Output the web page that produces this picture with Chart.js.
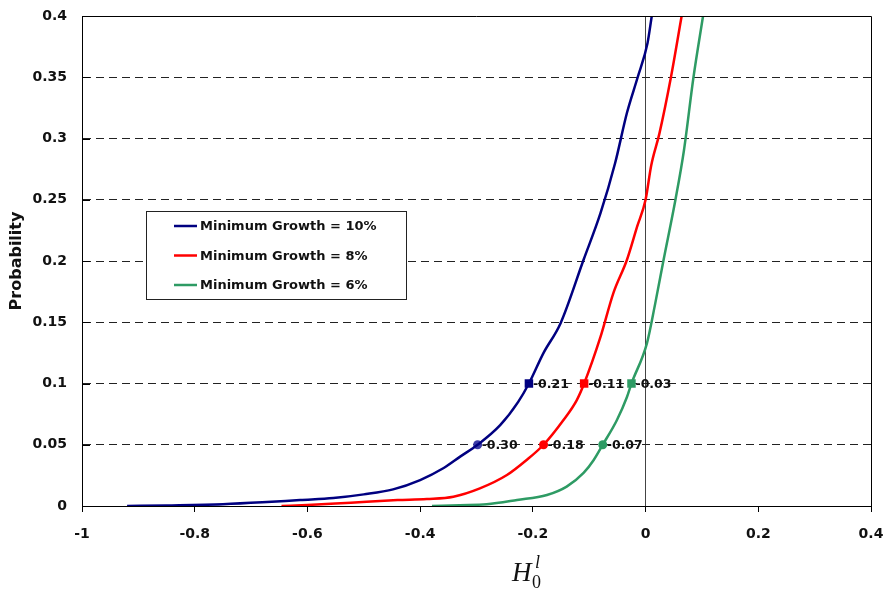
<!DOCTYPE html>
<html>
<head>
<title>Probability vs H0</title>
<script src="https://cdn.jsdelivr.net/npm/chart.js"></script>
<style>
  body { margin: 0; background: #fff; }
</style>
</head>
<body>
<canvas id="probChart" width="889" height="589"></canvas>
<script>
// series names / colours
const seriesNames = ['Minimum Growth = 10%', 'Minimum Growth = 8%', 'Minimum Growth = 6%'];
const seriesColors = ['#000080', '#ff0000', '#2e9b64'];
const dotColors = ['#3a3aa6', '#ff0000', '#2e9b64'];

// curves (H0 value, probability)
const h10 = [-0.92, -0.85, -0.75, -0.68, -0.613, -0.554, -0.50, -0.448, -0.40, -0.359, -0.329, -0.298, -0.258, -0.226, -0.207, -0.181, -0.151, -0.110, -0.080, -0.054, -0.033, -0.014, 0.0035, 0.011];
const p10 = [0, 0.0005, 0.0015, 0.003, 0.0049, 0.0065, 0.0095, 0.0136, 0.0212, 0.0308, 0.0403, 0.05, 0.066, 0.085, 0.1, 0.125, 0.149, 0.201, 0.239, 0.280, 0.321, 0.350, 0.378, 0.400];

const h8 = [-0.646, -0.60, -0.55, -0.495, -0.44, -0.388, -0.341, -0.294, -0.246, -0.211, -0.181, -0.146, -0.122, -0.109, -0.080, -0.057, -0.033, -0.015, 0, 0.01, 0.0245, 0.045, 0.064];
const p8 = [0, 0.0008, 0.002, 0.0035, 0.0048, 0.0057, 0.0076, 0.0144, 0.0253, 0.0376, 0.05, 0.070, 0.0865, 0.1, 0.138, 0.174, 0.201, 0.228, 0.25, 0.278, 0.304, 0.350, 0.400];

const h6 = [-0.379, -0.33, -0.282, -0.228, -0.175, -0.140, -0.110, -0.092, -0.076, -0.051, -0.033, -0.025, 0.0025, 0.017, 0.032, 0.053, 0.068, 0.085, 0.102];
const p6 = [0, 0.0007, 0.0014, 0.0049, 0.009, 0.0158, 0.027, 0.0376, 0.05, 0.070, 0.089, 0.1, 0.133, 0.165, 0.201, 0.25, 0.290, 0.35, 0.40];

// marked points at P = 0.1 (squares) and P = 0.05 (dots)
const sqH = [-0.207, -0.109, -0.025];
const sqP = [0.1, 0.1, 0.1];
const sqText = ['-0.21', '-0.11', '-0.03'];
const dotH = [-0.298, -0.181, -0.076];
const dotP = [0.05, 0.05, 0.05];
const dotText = ['-0.30', '-0.18', '-0.07'];

const yTickVals = [0, 0.05, 0.1, 0.15, 0.2, 0.25, 0.3, 0.35, 0.4];

function pts(xs, ys) { return xs.map((v, i) => ({ x: v, y: ys[i] })); }
function fmt(v) { return String(Number(v.toFixed(2))); }

const curves = [[h10, p10], [h8, p8], [h6, p6]];
const datasets = curves.map((c, i) => ({
  label: seriesNames[i],
  data: pts(c[0], c[1]),
  showLine: true,
  borderColor: seriesColors[i],
  borderWidth: 2.5,
  pointRadius: 0,
  cubicInterpolationMode: 'monotone'
}));
for (let i = 0; i < 3; i++) {
  datasets.push({
    label: 'sq' + i,
    data: [{ x: sqH[i], y: sqP[i] }],
    pointStyle: 'rect',
    pointRadius: 6,
    backgroundColor: seriesColors[i],
    borderColor: seriesColors[i],
    borderWidth: 0
  });
  datasets.push({
    label: 'dot' + i,
    data: [{ x: dotH[i], y: dotP[i] }],
    pointStyle: 'circle',
    pointRadius: 4.5,
    backgroundColor: dotColors[i],
    borderColor: dotColors[i],
    borderWidth: 0
  });
}

const extras = {
  id: 'extras',
  afterDraw(chart) {
    const { ctx, chartArea: a, scales: { x, y } } = chart;
    ctx.save();
    // top + right frame, inward y ticks
    ctx.strokeStyle = '#000';
    ctx.lineWidth = 1;
    ctx.beginPath();
    ctx.moveTo(a.left, Math.round(a.top) + 0.5);
    ctx.lineTo(Math.round(a.right) + 0.5, Math.round(a.top) + 0.5);
    ctx.lineTo(Math.round(a.right) + 0.5, a.bottom);
    yTickVals.forEach(v => {
      const py = Math.round(y.getPixelForValue(v)) + 0.5;
      ctx.moveTo(a.left, py);
      ctx.lineTo(a.left + 8, py);
    });
    ctx.stroke();

    // point labels
    ctx.font = 'bold 12.5px "DejaVu Sans"';
    ctx.fillStyle = '#111';
    ctx.textAlign = 'left';
    ctx.textBaseline = 'middle';
    for (let i = 0; i < 3; i++) {
      ctx.fillText(sqText[i], x.getPixelForValue(sqH[i]) + 4, y.getPixelForValue(sqP[i]) + 1);
      ctx.fillText(dotText[i], x.getPixelForValue(dotH[i]) + 4, y.getPixelForValue(dotP[i]) + 1);
    }

    // legend box
    const bx = 146.5, by = 211.5, bw = 260, bh = 88;
    ctx.fillStyle = '#fff';
    ctx.fillRect(bx, by, bw, bh);
    ctx.strokeStyle = '#222';
    ctx.strokeRect(bx, by, bw, bh);
    ctx.font = 'bold 13px "DejaVu Sans"';
    ctx.textBaseline = 'middle';
    for (let i = 0; i < 3; i++) {
      const ly = 226 + i * 29.5;
      ctx.strokeStyle = seriesColors[i];
      ctx.lineWidth = 2.5;
      ctx.beginPath();
      ctx.moveTo(174, ly);
      ctx.lineTo(197, ly);
      ctx.stroke();
      ctx.fillStyle = '#111';
      ctx.fillText(chart.data.datasets[i].label, 200, ly + 1);
    }

    // x axis title H_0^l
    ctx.fillStyle = '#111';
    ctx.textBaseline = 'alphabetic';
    ctx.font = 'italic 27px "Liberation Serif"';
    ctx.fillText('H', 512, 581);
    ctx.font = '18px "Liberation Serif"';
    ctx.fillText('0', 532, 588);
    ctx.font = 'italic 18px "Liberation Serif"';
    ctx.fillText('l', 535, 568);
    ctx.restore();
  }
};

new Chart(document.getElementById('probChart'), {
  type: 'scatter',
  data: { datasets: datasets },
  options: {
    responsive: false,
    animation: false,
    layout: { padding: { left: 0, top: 16, right: 18, bottom: 0 } },
    plugins: { legend: { display: false }, tooltip: { enabled: false } },
    scales: {
      x: {
        type: 'linear',
        min: -1,
        max: 0.4,
        afterFit: s => { s.height = 83; s.paddingLeft = 0; s.paddingRight = 0; },
        ticks: {
          stepSize: 0.2,
          padding: 14,
          color: '#111',
          font: { family: 'DejaVu Sans', size: 14, weight: 'bold' },
          callback: v => fmt(v)
        },
        grid: {
          color: c => (c.tick && Math.abs(c.tick.value) < 1e-9) ? '#444' : 'rgba(0,0,0,0)',
          tickColor: '#000',
          tickLength: 6,
          lineWidth: 1
        },
        border: { display: true, color: '#000', width: 1 }
      },
      y: {
        type: 'linear',
        min: 0,
        max: 0.4,
        afterFit: s => { s.width = 82; s.paddingTop = 0; s.paddingBottom = 0; },
        title: {
          display: true,
          text: 'Probability',
          color: '#111',
          font: { family: 'DejaVu Sans', size: 16, weight: 'bold' },
          padding: { top: 7, bottom: 0 }
        },
        ticks: {
          stepSize: 0.05,
          padding: 15,
          color: '#111',
          font: { family: 'DejaVu Sans', size: 14, weight: 'bold' },
          callback: v => fmt(v)
        },
        grid: {
          color: c => (c.tick && (c.tick.value < 1e-9 || c.tick.value > 0.399)) ? 'rgba(0,0,0,0)' : '#222',
          drawTicks: false,
          lineWidth: 1
        },
        border: { display: true, color: '#000', width: 1, dash: [8, 5] }
      }
    }
  },
  plugins: [extras]
});
</script>
</body>
</html>
